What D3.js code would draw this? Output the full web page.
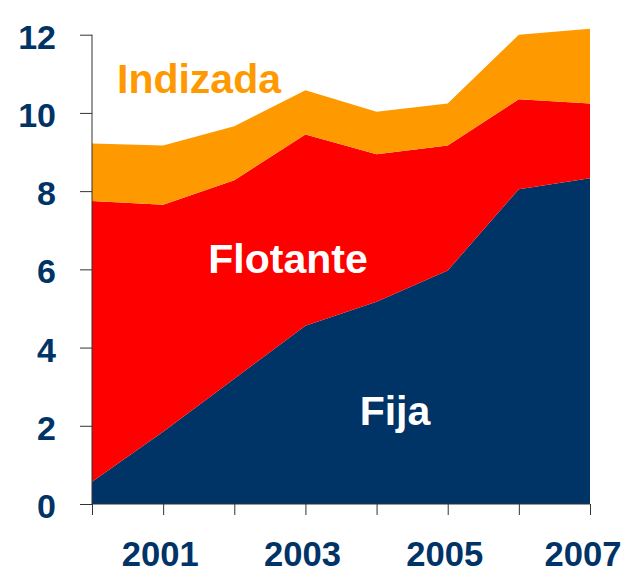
<!DOCTYPE html>
<html>
<head>
<meta charset="utf-8">
<script src="https://cdn.jsdelivr.net/npm/d3@7"></script>
<style>
  body { margin: 0; background: #fff; }
  svg { display: block; font-family: Arial, "Liberation Sans", sans-serif; }
</style>
</head>
<body>
<div class="svg-container"></div>
<script>
// data
var years = [2000, 2001, 2002, 2003, 2004, 2005, 2006, 2007];
var fija = [0.57, 1.85, 3.2, 4.56, 5.17, 5.97, 8.05, 8.33];
var flotante = [7.18, 5.8, 5.08, 4.89, 3.77, 3.2, 2.3, 1.91];
var indizada = [1.47, 1.52, 1.38, 1.13, 1.09, 1.07, 1.65, 1.91];
var yTicks = [0, 2, 4, 6, 8, 10, 12];
var xLabels = [2001, 2003, 2005, 2007];
var seriesNames = ['Fija', 'Flotante', 'Indizada'];

function draw() {
  "use strict";

  var width = 628;
  var height = 574;

  var colors = { Fija: '#003366', Flotante: '#ff0000', Indizada: '#ff9900' };

  var svg = d3.select('.svg-container')
      .append('svg')
      .attr('width', width)
      .attr('height', height);

  var x = d3.scaleLinear().domain([2000, 2007]).range([92, 590]);
  var y = d3.scaleLinear().domain([0, 12]).range([504, 34.7]);

  var rows = years.map(function(yr, i) {
    return { year: yr, Fija: fija[i], Flotante: flotante[i], Indizada: indizada[i] };
  });

  var stack = d3.stack().keys(seriesNames);
  var layers = stack(rows);

  var area = d3.area()
      .x(function(d) { return x(d.data.year); })
      .y0(function(d) { return y(d[0]); })
      .y1(function(d) { return y(d[1]); });

  svg.append('g').attr('class', 'areas')
      .selectAll('path')
      .data(layers)
      .enter().append('path')
      .attr('d', area)
      .attr('fill', function(d) { return colors[d.key]; });

  // y axis
  var yAxis = svg.append('g')
      .attr('transform', 'translate(' + x(2000) + ',0)')
      .call(d3.axisLeft(y).tickValues(yTicks).tickSize(12).tickFormat(''));
  yAxis.select('.domain').attr('stroke', '#333').attr('d', 'M0,' + y(12) + 'V' + y(0));
  yAxis.selectAll('.tick line').attr('stroke', '#333');

  svg.append('g').attr('class', 'ylabels')
      .selectAll('text')
      .data(yTicks)
      .enter().append('text')
      .attr('x', 56)
      .attr('y', function(d) { return y(d) + 14; })
      .attr('text-anchor', 'end')
      .attr('font-size', 34)
      .attr('font-weight', 'bold')
      .attr('fill', '#003366')
      .text(function(d) { return d; });

  // x axis
  var xAxis = svg.append('g')
      .attr('transform', 'translate(0,' + y(0) + ')')
      .call(d3.axisBottom(x).tickValues(years).tickSize(11).tickFormat(''));
  xAxis.select('.domain').attr('stroke', '#333').attr('d', 'M' + x(2000) + ',0H' + x(2007));
  xAxis.selectAll('.tick line').attr('stroke', '#333');

  svg.append('g').attr('class', 'xlabels')
      .selectAll('text')
      .data(xLabels)
      .enter().append('text')
      .attr('x', function(d) { return Math.min(x(d) - 3, width - 45); })
      .attr('y', 566)
      .attr('text-anchor', 'middle')
      .attr('font-size', 35)
      .attr('font-weight', 'bold')
      .attr('fill', '#003366')
      .attr('textLength', 77)
      .attr('lengthAdjust', 'spacingAndGlyphs')
      .text(function(d) { return d; });

  // series names inside the areas
  var labels = [
    { name: 'Indizada', cx: 199, by: 93, fill: '#ff9900' },
    { name: 'Flotante', cx: 288, by: 273, fill: '#ffffff' },
    { name: 'Fija', cx: 395, by: 425, fill: '#ffffff' }
  ];
  svg.append('g').attr('class', 'names')
      .selectAll('text')
      .data(labels)
      .enter().append('text')
      .attr('x', function(d) { return d.cx; })
      .attr('y', function(d) { return d.by; })
      .attr('text-anchor', 'middle')
      .attr('font-size', 41)
      .attr('font-weight', 'bold')
      .attr('fill', function(d) { return d.fill; })
      .text(function(d) { return d.name; });
}

draw();
</script>
</body>
</html>
